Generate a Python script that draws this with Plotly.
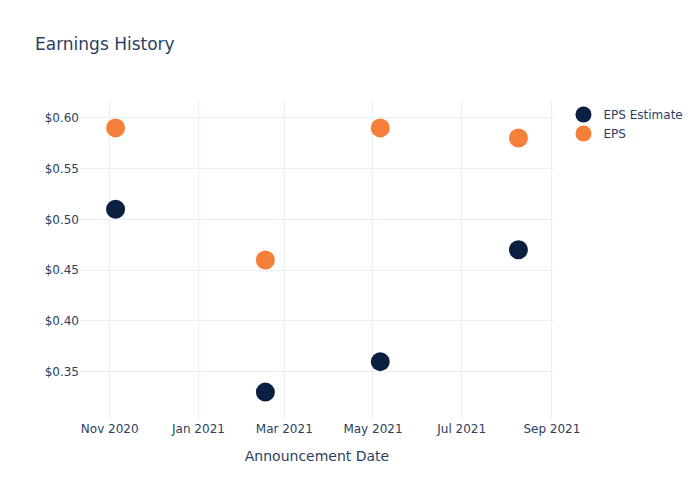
import plotly.graph_objects as go

dates = ["2020-11-05", "2021-02-16", "2021-05-06", "2021-08-09"]
eps_estimate = [0.51, 0.33, 0.36, 0.47]
eps_actual = [0.59, 0.46, 0.59, 0.58]

fig = go.Figure()
fig.add_trace(go.Scatter(x=dates, y=eps_estimate, mode="markers", name="EPS Estimate",
                         marker=dict(color="#0b1f40", size=19)))
fig.add_trace(go.Scatter(x=dates, y=eps_actual, mode="markers", name="EPS",
                         marker=dict(color="#f6803a", size=19)))
fig.update_layout(
    template="plotly_white",
    width=700, height=500,
    title=dict(text="Earnings History"),
    xaxis=dict(title=dict(text="Announcement Date", standoff=16), dtick="M2", tickformat="%b %Y"),
    yaxis=dict(tickprefix="$", tickformat=".2f"),
    font=dict(family="DejaVu Sans"),
)
fig.write_html("out.html")
